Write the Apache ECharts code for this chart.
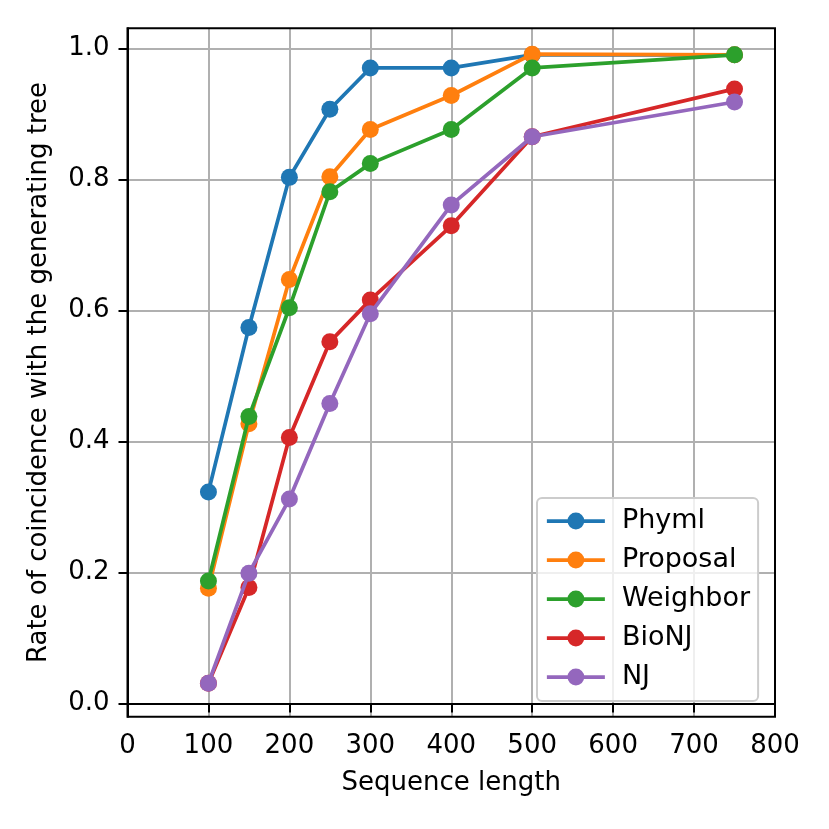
<!DOCTYPE html>
<html>
<head>
<meta charset="utf-8">
<script src="https://cdn.jsdelivr.net/npm/echarts@6/dist/echarts.min.js"></script>
<style>html,body{margin:0;padding:0;background:#fff;}#c{width:829px;height:829px;}</style>
</head>
<body>
<div id="c"></div>
<script>
const lengths = [100, 150, 200, 250, 300, 400, 500, 750];
const phyml    = [0.323, 0.574, 0.803, 0.907, 0.970, 0.970, 0.990, 0.990];
const proposal = [0.176, 0.427, 0.647, 0.804, 0.876, 0.928, 0.991, 0.990];
const weighbor = [0.187, 0.438, 0.604, 0.781, 0.824, 0.876, 0.970, 0.990];
const bionj    = [0.031, 0.177, 0.406, 0.552, 0.616, 0.729, 0.865, 0.938];
const nj       = [0.031, 0.199, 0.312, 0.458, 0.595, 0.761, 0.865, 0.918];
const seriesNames = ['Phyml', 'Proposal', 'Weighbor', 'BioNJ', 'NJ'];
const seriesData = [phyml, proposal, weighbor, bionj, nj];
const colors = ['#1f77b4', '#ff7f0e', '#2ca02c', '#d62728', '#9467bd'];
const yTicks = [0, 0.2, 0.4, 0.6, 0.8, 1.0];

const font = 'DejaVu Sans';
const fs = 26;
const chart = echarts.init(document.getElementById('c'), null, {renderer: 'canvas'});
chart.setOption({
  backgroundColor: '#fff',
  animation: false,
  color: colors,
  grid: {left: 127.5, right: 54, top: 28.3, bottom: 112.3, show: true, borderColor: '#000', borderWidth: 2, backgroundColor: 'transparent', z: 10},
  legend: {
    orient: 'vertical', left: 537, top: 498,
    padding: [8, 8, 9, 8], itemGap: 9, itemWidth: 58, itemHeight: 21,
    backgroundColor: 'rgba(255,255,255,0.8)', borderColor: '#cccccc', borderWidth: 2, borderRadius: 5,
    lineStyle: {width: 3.75},
    textStyle: {fontFamily: font, fontSize: 27, color: '#000', lineHeight: 30, padding: [0, 0, 0, 12]},
    data: seriesNames
  },
  xAxis: {
    type: 'value', min: 0, max: 800, interval: 100,
    name: 'Sequence length', nameLocation: 'middle', nameGap: 54,
    nameTextStyle: {fontFamily: font, fontSize: fs, color: '#000'},
    axisLine: {show: true, lineStyle: {color: '#000', width: 2}},
    axisTick: {show: true, inside: false, length: 9, lineStyle: {color: '#000', width: 2}},
    axisLabel: {fontFamily: font, fontSize: fs, color: '#000', margin: 17, showMinLabel: true, showMaxLabel: true},
    splitLine: {show: true, lineStyle: {color: '#b0b0b0', width: 2}}
  },
  yAxis: {
    type: 'value', min: -0.0201, max: 1.0305,
    name: 'Rate of coincidence with the generating tree', nameLocation: 'middle', nameGap: 75,
    nameTextStyle: {fontFamily: font, fontSize: fs, color: '#000'},
    axisLine: {show: true, lineStyle: {color: '#000', width: 2}},
    axisTick: {show: true, inside: false, length: 9, customValues: yTicks, lineStyle: {color: '#000', width: 2}},
    axisLabel: {fontFamily: font, fontSize: fs, color: '#000', margin: 18, customValues: yTicks, formatter: v => v.toFixed(1)},
    splitLine: {show: true, lineStyle: {color: '#b0b0b0', width: 2}}
  },
  series: seriesNames.map((n, i) => ({
    name: n, type: 'line',
    data: lengths.map((x, j) => [x, seriesData[i][j]]),
    symbol: 'circle', symbolSize: 17, showSymbol: true,
    lineStyle: {width: 3.75, color: colors[i]},
    itemStyle: {color: colors[i]},
    z: 3 + i
  }))
});
</script>
</body>
</html>
